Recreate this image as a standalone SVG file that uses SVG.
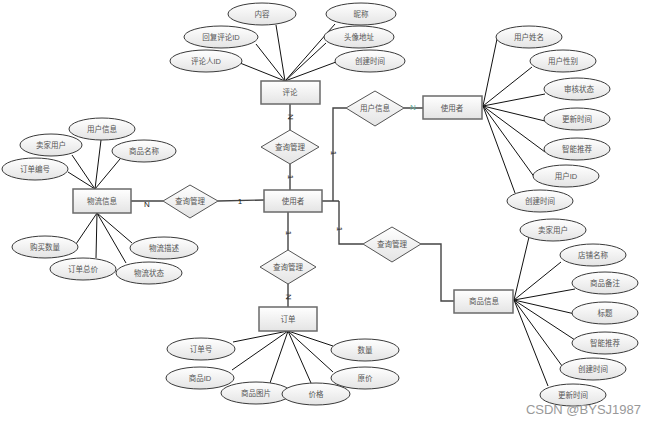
<svg xmlns="http://www.w3.org/2000/svg" width="656" height="424" viewBox="0 0 656 424">
<defs>
<linearGradient id="g" x1="0" y1="0" x2="0" y2="1">
<stop offset="0" stop-color="#ffffff"/>
<stop offset="1" stop-color="#e4e4e4"/>
</linearGradient>
<style>
.e{fill:url(#g);stroke:#3a3a3a;stroke-width:1}
.r{fill:url(#g);stroke:#6a6a6a;stroke-width:1.5}
.d{fill:url(#g);stroke:#555;stroke-width:1}
.t{font-family:"Liberation Sans","Noto Sans CJK SC",sans-serif;font-size:7.5px;fill:#555;text-anchor:middle;dominant-baseline:central}
.a{stroke:#111;stroke-width:1;fill:none}
.c{stroke:#444;stroke-width:1.4;fill:none}
.k{font-family:"Liberation Sans",sans-serif;font-size:8px;fill:#222;text-anchor:middle;dominant-baseline:central}
</style>
</defs>
<rect width="656" height="424" fill="#fff"/>
<g id="connectors">
<!-- 评论 attrs -->
<path class="a" d="M285 81L276 25M285 81L335 24M285 81L256 44M285 81L326 43M285 81L240 63M285 81L336 62"/>
<!-- 物流信息 attrs -->
<path class="a" d="M95 189L101 140M95 189L72 155M95 189L120 159M95 189L68 172"/>
<path class="a" d="M97 213L76 244M97 213L96 258M97 213L132 243M97 213L126 263"/>
<!-- 订单 attrs -->
<path class="a" d="M288 331L233 342M288 331L232 370M288 331L270 383M288 331L311 383M288 331L333 346M288 331L333 372"/>
<!-- 使用者 right attrs -->
<path class="a" d="M483 106L497 39M483 106L532 67M483 106L545 94M483 106L545 121M483 106L545 152M483 106L535 178M483 106L515 193"/>
<!-- 商品信息 attrs -->
<path class="a" d="M514 300L529 237M514 300L561 262M514 300L575 289M514 300L575 314M514 300L575 340M514 300L565 370M514 300L548 386"/>
<!-- relationships -->
<path class="c" d="M290 104V130M290 164V190"/>
<path class="c" d="M131 201H163M218 201L264 200"/>
<path class="c" d="M288 212V250M288 284V307"/>
<path class="c" d="M322 201H339M333 201V108H346M404 108H423"/>
<path class="c" d="M339 201V244H363M421 244H441V301H454"/>
<text class="k" transform="translate(290 117) rotate(90)">N</text>
<text class="k" transform="translate(290 177) rotate(90)">1</text>
<text class="k" x="147" y="204">N</text>
<text class="k" x="240" y="201">1</text>
<text class="k" transform="translate(288 233) rotate(90)">1</text>
<text class="k" transform="translate(288 297) rotate(90)">N</text>
<text class="k" transform="translate(333 153) rotate(90)">1</text>
<text class="k" x="413" y="107" style="fill:#6a9">N</text>
<text class="k" transform="translate(339 229) rotate(90)">1</text>
</g>
<g id="pinglun"><rect class="r" x="261" y="81" width="59" height="23"/><text class="t" x="290" y="92">评论</text></g>
<g id="shiyongzhe"><rect class="r" x="264" y="190" width="58" height="22"/><text class="t" x="293" y="201">使用者</text></g>
<g id="wuliuxinxi"><rect class="r" x="73" y="189" width="58" height="24"/><text class="t" x="102" y="201">物流信息</text></g>
<g id="dingdan"><rect class="r" x="259" y="307" width="58" height="24"/><text class="t" x="288" y="319">订单</text></g>
<g id="shiyongzhe2"><rect class="r" x="423" y="96" width="59" height="23"/><text class="t" x="452" y="108">使用者</text></g>
<g id="shangpinxinxi"><rect class="r" x="454" y="290" width="59" height="23"/><text class="t" x="484" y="301">商品信息</text></g>
<g id="rel-top"><polygon class="d" points="290,130 319,147 290,164 261,147"/><text class="t" x="290" y="147">查询管理</text></g>
<g id="rel-left"><polygon class="d" points="190,185 218,201 190,218 163,201"/><text class="t" x="190" y="201">查询管理</text></g>
<g id="rel-bottom"><polygon class="d" points="288,250 316,267 288,284 260,267"/><text class="t" x="288" y="267">查询管理</text></g>
<g id="rel-user"><polygon class="d" points="375,91 404,108 375,126 346,108"/><text class="t" x="375" y="108">用户信息</text></g>
<g id="rel-right"><polygon class="d" points="392,227 421,244 392,262 363,244"/><text class="t" x="392" y="244">查询管理</text></g>
<g id="a-neirong"><ellipse class="e" cx="262" cy="14" rx="34" ry="11"/><text class="t" x="262" y="14">内容</text></g>
<g id="a-nicheng"><ellipse class="e" cx="361" cy="14" rx="35" ry="11"/><text class="t" x="361" y="14">昵称</text></g>
<g id="a-huifu"><ellipse class="e" cx="221" cy="37" rx="37" ry="11"/><text class="t" x="221" y="37">回复评论ID</text></g>
<g id="a-touxiang"><ellipse class="e" cx="359" cy="37" rx="35" ry="11"/><text class="t" x="359" y="37">头像地址</text></g>
<g id="a-pinglunren"><ellipse class="e" cx="206" cy="61" rx="36" ry="11"/><text class="t" x="206" y="61">评论人ID</text></g>
<g id="a-chuangjian1"><ellipse class="e" cx="370" cy="61" rx="35" ry="11"/><text class="t" x="370" y="61">创建时间</text></g>
<g id="a-yonghuxinxi"><ellipse class="e" cx="102" cy="129" rx="33" ry="11"/><text class="t" x="102" y="129">用户信息</text></g>
<g id="a-maijia1"><ellipse class="e" cx="51" cy="145" rx="31" ry="11"/><text class="t" x="51" y="145">卖家用户</text></g>
<g id="a-shangpinmc"><ellipse class="e" cx="144" cy="151" rx="32" ry="11"/><text class="t" x="144" y="151">商品名称</text></g>
<g id="a-dingdanbh"><ellipse class="e" cx="35" cy="169" rx="33" ry="11"/><text class="t" x="35" y="169">订单编号</text></g>
<g id="a-goumai"><ellipse class="e" cx="45" cy="247" rx="33" ry="11"/><text class="t" x="45" y="247">购买数量</text></g>
<g id="a-zongjia"><ellipse class="e" cx="83" cy="269" rx="33" ry="11"/><text class="t" x="83" y="269">订单总价</text></g>
<g id="a-miaoshu"><ellipse class="e" cx="164" cy="248" rx="34" ry="11"/><text class="t" x="164" y="248">物流描述</text></g>
<g id="a-zhuangtai"><ellipse class="e" cx="149" cy="273" rx="33" ry="11"/><text class="t" x="149" y="273">物流状态</text></g>
<g id="a-dingdanhao"><ellipse class="e" cx="201" cy="349" rx="34" ry="11"/><text class="t" x="201" y="349">订单号</text></g>
<g id="a-shangpinid"><ellipse class="e" cx="200" cy="378" rx="34" ry="11"/><text class="t" x="200" y="378">商品ID</text></g>
<g id="a-tupian"><ellipse class="e" cx="256" cy="393" rx="35" ry="11"/><text class="t" x="256" y="393">商品图片</text></g>
<g id="a-jiage"><ellipse class="e" cx="316" cy="394" rx="34" ry="11"/><text class="t" x="316" y="394">价格</text></g>
<g id="a-shuliang"><ellipse class="e" cx="365" cy="350" rx="34" ry="11"/><text class="t" x="365" y="350">数量</text></g>
<g id="a-yuanjia"><ellipse class="e" cx="365" cy="378" rx="34" ry="11"/><text class="t" x="365" y="378">原价</text></g>
<g id="a-xingming"><ellipse class="e" cx="529" cy="37" rx="33" ry="11"/><text class="t" x="529" y="37">用户姓名</text></g>
<g id="a-xingbie"><ellipse class="e" cx="563" cy="61" rx="33" ry="11"/><text class="t" x="563" y="61">用户性别</text></g>
<g id="a-shenhe"><ellipse class="e" cx="577" cy="89" rx="33" ry="11"/><text class="t" x="579" y="89">审核状态</text></g>
<g id="a-gengxin1"><ellipse class="e" cx="577" cy="119" rx="33" ry="11"/><text class="t" x="577" y="119">更新时间</text></g>
<g id="a-tuijian1"><ellipse class="e" cx="577" cy="149" rx="33" ry="11"/><text class="t" x="577" y="149">智能推荐</text></g>
<g id="a-yonghuid"><ellipse class="e" cx="566" cy="176" rx="33" ry="11"/><text class="t" x="566" y="176">用户ID</text></g>
<g id="a-chuangjian2"><ellipse class="e" cx="540" cy="201" rx="33" ry="11"/><text class="t" x="540" y="201">创建时间</text></g>
<g id="a-maijia2"><ellipse class="e" cx="553" cy="230" rx="33" ry="11"/><text class="t" x="553" y="230">卖家用户</text></g>
<g id="a-dianpu"><ellipse class="e" cx="593" cy="255" rx="33" ry="11"/><text class="t" x="593" y="255">店铺名称</text></g>
<g id="a-beizhu"><ellipse class="e" cx="605" cy="283" rx="33" ry="11"/><text class="t" x="605" y="283">商品备注</text></g>
<g id="a-biaoti"><ellipse class="e" cx="605" cy="313" rx="33" ry="11"/><text class="t" x="605" y="313">标题</text></g>
<g id="a-tuijian2"><ellipse class="e" cx="605" cy="343" rx="33" ry="11"/><text class="t" x="605" y="343">智能推荐</text></g>
<g id="a-chuangjian3"><ellipse class="e" cx="593" cy="369" rx="33" ry="11"/><text class="t" x="593" y="369">创建时间</text></g>
<g id="a-gengxin2"><ellipse class="e" cx="573" cy="395" rx="33" ry="11"/><text class="t" x="573" y="395">更新时间</text></g>
<text x="641" y="414" style="font-family:'Liberation Sans',sans-serif;font-size:13px;fill:#999;text-anchor:end">CSDN @BYSJ1987</text>
</svg>
